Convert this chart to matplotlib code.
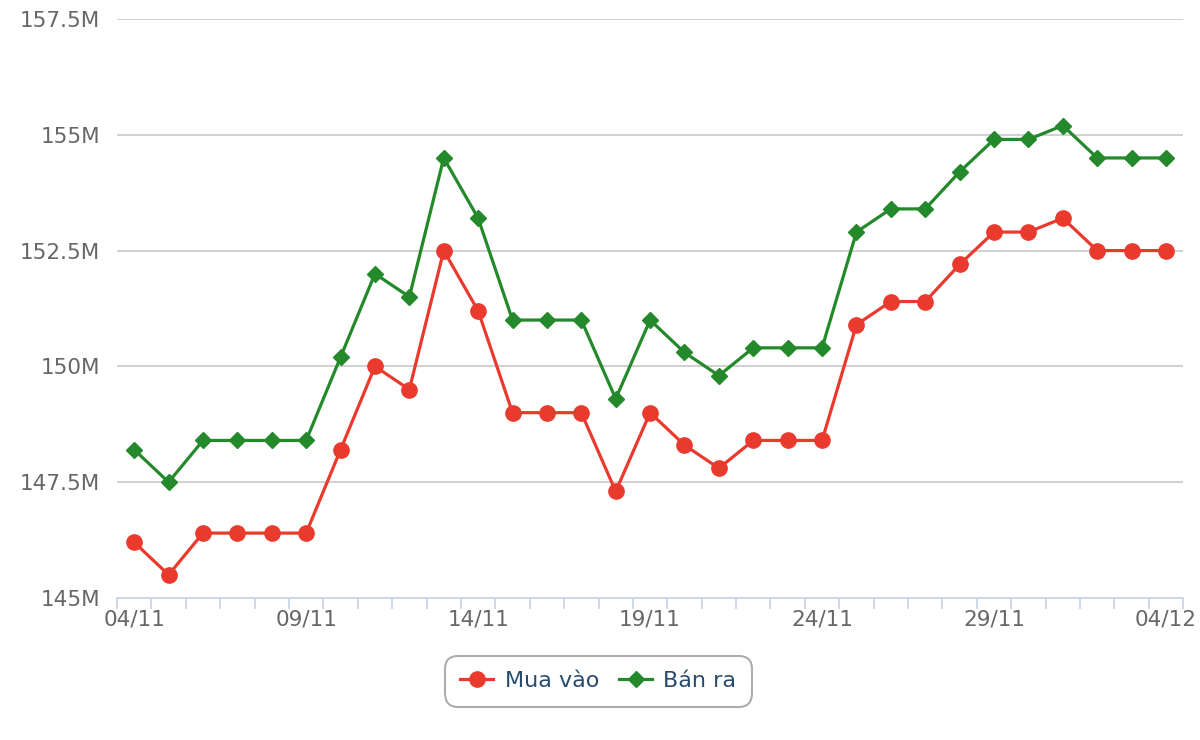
import numpy as np
import matplotlib.pyplot as plt

# ngày từ 04/11 đến 04/12
dates = ['04/11', '05/11', '06/11', '07/11', '08/11', '09/11', '10/11', '11/11',
         '12/11', '13/11', '14/11', '15/11', '16/11', '17/11', '18/11', '19/11',
         '20/11', '21/11', '22/11', '23/11', '24/11', '25/11', '26/11', '27/11',
         '28/11', '29/11', '30/11', '01/12', '02/12', '03/12', '04/12']

# giá (triệu đồng)
mua_vao = [146.2, 145.5, 146.4, 146.4, 146.4, 146.4, 148.2, 150.0,
           149.5, 152.5, 151.2, 149.0, 149.0, 149.0, 147.3, 149.0,
           148.3, 147.8, 148.4, 148.4, 148.4, 150.9, 151.4, 151.4,
           152.2, 152.9, 152.9, 153.2, 152.5, 152.5, 152.5]
ban_ra = [148.2, 147.5, 148.4, 148.4, 148.4, 148.4, 150.2, 152.0,
          151.5, 154.5, 153.2, 151.0, 151.0, 151.0, 149.3, 151.0,
          150.3, 149.8, 150.4, 150.4, 150.4, 152.9, 153.4, 153.4,
          154.2, 154.9, 154.9, 155.2, 154.5, 154.5, 154.5]

y_ticks = [145, 147.5, 150, 152.5, 155, 157.5]
y_labels = ['145M', '147.5M', '150M', '152.5M', '155M', '157.5M']

x = np.arange(len(dates))

fig = plt.figure(figsize=(12, 7.4), dpi=100)
ax = fig.add_axes([0.0975, 0.192, 0.8885, 0.7823])

ax.plot(x, mua_vao, color='#ea3a2e', lw=2.3, marker='o', ms=11,
        label='Mua vào', zorder=3, clip_on=False)
ax.plot(x, ban_ra, color='#24892a', lw=2.3, marker='D', ms=8.5,
        label='Bán ra', zorder=3, clip_on=False)

ax.set_xlim(-0.5, len(dates) - 0.5)
ax.set_ylim(145, 157.5)

ax.set_yticks(y_ticks)
ax.set_yticklabels(y_labels)
ax.tick_params(axis='y', length=0, pad=12, labelsize=15.5, labelcolor='#666666')

ax.set_xticks(x[::5])
ax.set_xticklabels(dates[::5])
ax.set_xticks(np.arange(-0.5, len(dates)), minor=True)
ax.tick_params(axis='x', which='major', length=0, pad=8, labelsize=15.5, labelcolor='#666666')
ax.tick_params(axis='x', which='minor', length=8, width=1.3, color='#ccd6eb', direction='out')

ax.grid(axis='y', color='#c8c8c8', lw=1.2)
ax.set_axisbelow(True)
for s in ['top', 'right', 'left']:
    ax.spines[s].set_visible(False)
ax.spines['bottom'].set_color('#ccd6eb')
ax.spines['bottom'].set_linewidth(1.3)

leg = fig.legend(loc='center', bbox_to_anchor=(0.4985, 0.0795), ncol=2,
                 fontsize=16, frameon=True, fancybox=True, handlelength=1.5,
                 handletextpad=0.5, columnspacing=0.9, borderpad=0.7)
leg.get_frame().set_edgecolor('#999999')
leg.get_frame().set_linewidth(1.5)
leg.get_frame().set_boxstyle('round', pad=0, rounding_size=0.6)
for t in leg.get_texts():
    t.set_color('#274b6d')

fig.savefig('out.png')
